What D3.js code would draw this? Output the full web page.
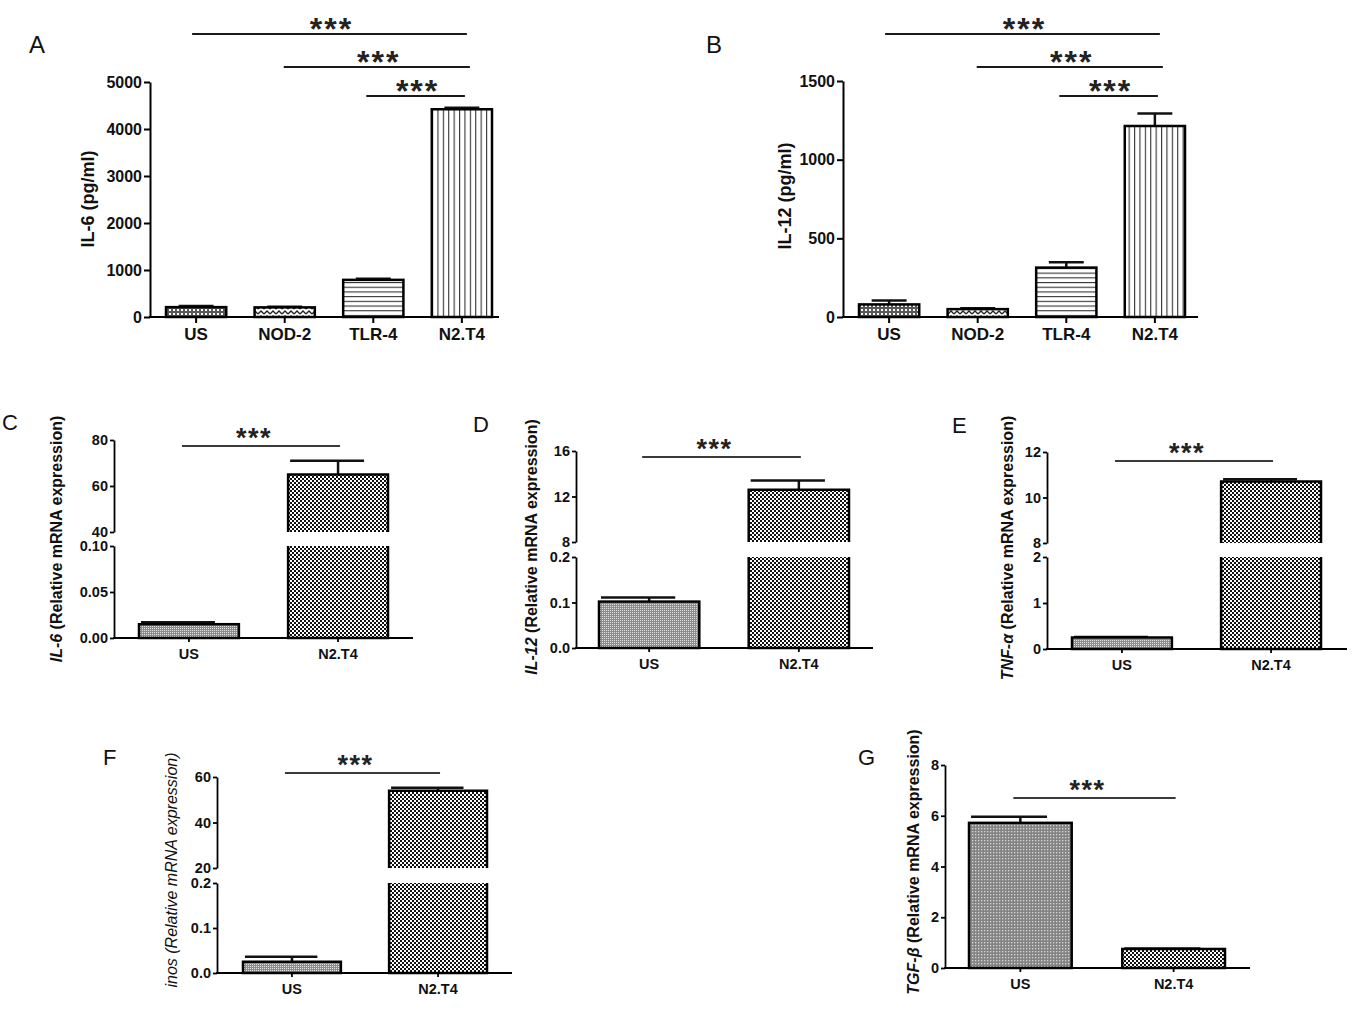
<!DOCTYPE html>
<html><head><meta charset="utf-8">
<script src="https://cdn.jsdelivr.net/npm/d3@7"></script>
<style>body{margin:0;background:#fff}svg text{font-family:"Liberation Sans",Arial,sans-serif}</style>
</head><body><svg id="fig" width="1355" height="1020"></svg>
<script>
// ---------------- DATA ----------------
const cytokineGroups = ["US", "NOD-2", "TLR-4", "N2.T4"];
const mrnaGroups = ["US", "N2.T4"];

const il6Protein = [210, 205, 790, 4420];
const il6ProteinErr = [25, 15, 25, 30];
const il6ProteinTicks = [0, 1000, 2000, 3000, 4000, 5000];

const il12Protein = [80, 50, 314, 1214];
const il12ProteinErr = [25, 5, 34, 80];
const il12ProteinTicks = [0, 500, 1000, 1500];

const proteinComparisons = [["US", "N2.T4", "***"], ["NOD-2", "N2.T4", "***"], ["TLR-4", "N2.T4", "***"]];
const mrnaComparisons = [["US", "N2.T4", "***"]];

const il6Mrna = [0.015, 65];
const il6MrnaErr = [0.002, 6];
const il6MrnaLowTicks = [0, 0.05, 0.10];
const il6MrnaHighTicks = [40, 60, 80];

const il12Mrna = [0.102, 12.6];
const il12MrnaErr = [0.009, 0.8];
const il12MrnaLowTicks = [0, 0.1, 0.2];
const il12MrnaHighTicks = [8, 12, 16];

const tnfMrna = [0.25, 10.7];
const tnfMrnaErr = [0.01, 0.1];
const tnfMrnaLowTicks = [0, 1, 2];
const tnfMrnaHighTicks = [8, 10, 12];

const inosMrna = [0.025, 54];
const inosMrnaErr = [0.011, 1.3];
const inosMrnaLowTicks = [0, 0.1, 0.2];
const inosMrnaHighTicks = [20, 40, 60];

const tgfMrna = [5.72, 0.75];
const tgfMrnaErr = [0.24, 0.02];
const tgfMrnaTicks = [0, 2, 4, 6, 8];

// ---------------- PATTERNS ----------------
const svg = d3.select("#fig");
const defs = svg.append("defs");
function pat(id, w, h, bg, draw) {
  const p = defs.append("pattern").attr("id", id).attr("patternUnits", "userSpaceOnUse")
    .attr("width", w).attr("height", h);
  p.append("rect").attr("width", w).attr("height", h).attr("fill", bg);
  draw(p);
}
pat("pUS4", 4, 4, "#5a5a5a", p => p.append("rect").attr("x", 1).attr("y", 1).attr("width", 2).attr("height", 2).attr("fill", "#fff"));
pat("pZig", 6, 5, "#fff", p => p.append("path").attr("d", "M0,4 L3,1 L6,4").attr("fill", "none").attr("stroke", "#222").attr("stroke-width", 1.4));
pat("pHor", 8, 4.7, "#fff", p => p.append("rect").attr("width", 8).attr("height", 1.1).attr("fill", "#333"));
pat("pVer", 5.4, 8, "#fff", p => p.append("rect").attr("width", 1.1).attr("height", 8).attr("fill", "#333"));
pat("pChk", 4, 4, "#fff", p => {
  p.append("rect").attr("width", 2).attr("height", 2).attr("fill", "#111");
  p.append("rect").attr("x", 2).attr("y", 2).attr("width", 2).attr("height", 2).attr("fill", "#111");
});
pat("pGray", 2, 2, "#8c8c8c", p => p.append("rect").attr("width", 1).attr("height", 1).attr("fill", "#e2e2e2"));
pat("pGrayG", 3, 3, "#848484", p => p.append("rect").attr("width", 1.3).attr("height", 1.3).attr("fill", "#d6d6d6"));

// ---------------- PANEL ----------------
function panel(c) {
  const g = svg.append("g");
  const x = d3.scaleBand().domain(c.groups).range(c.band).paddingInner(c.pad);
  const bw = x.bandwidth();
  const cx = k => x(k) + bw / 2;
  let yLow, yHigh;
  if (c.brk) {
    yLow = d3.scaleLinear().domain([0, c.brk.lowMax]).range([c.y0, c.brk.lowTopPx]);
    yHigh = d3.scaleLinear().domain([c.brk.highMin, c.yMax]).range([c.brk.highBotPx, c.yTopPx]);
  } else {
    yLow = d3.scaleLinear().domain([0, c.yMax]).range([c.y0, c.yTopPx]);
  }
  const isHigh = v => c.brk && v > c.brk.lowMax;

  // error bars
  c.values.forEach((v, i) => {
    const sc = isHigh(v) ? yHigh : yLow;
    const xc = cx(c.groups[i]);
    const ye = sc(v + c.errs[i]);
    g.append("line").attr("x1", xc).attr("x2", xc).attr("y1", sc(v)).attr("y2", ye)
      .attr("stroke", "#111").attr("stroke-width", c.barSW);
    g.append("line").attr("x1", xc - bw * c.capL).attr("x2", xc + bw * c.capR).attr("y1", ye).attr("y2", ye)
      .attr("stroke", "#111").attr("stroke-width", c.barSW);
  });

  // bars
  c.values.forEach((v, i) => {
    const bx = x(c.groups[i]);
    const fill = `url(#${c.fills[i]})`;
    if (isHigh(v)) {
      const yb = yLow(c.brk.lowMax);
      g.append("rect").attr("x", bx).attr("y", yb).attr("width", bw).attr("height", c.y0 - yb).attr("fill", fill);
      g.append("path").attr("d", `M${bx},${yb}V${c.y0}H${bx + bw}V${yb}`).attr("fill", "none")
        .attr("stroke", "#000").attr("stroke-width", c.barSW);
      const yt = yHigh(v), yhb = yHigh(c.brk.highMin);
      g.append("rect").attr("x", bx).attr("y", yt).attr("width", bw).attr("height", yhb - yt).attr("fill", fill);
      g.append("path").attr("d", `M${bx},${yhb}V${yt}H${bx + bw}V${yhb}`).attr("fill", "none")
        .attr("stroke", "#000").attr("stroke-width", c.barSW);
    } else {
      const yt = yLow(v);
      g.append("rect").attr("x", bx).attr("y", yt).attr("width", bw).attr("height", c.y0 - yt)
        .attr("fill", fill).attr("stroke", "#000").attr("stroke-width", c.barSW);
    }
  });

  // y axes
  function yAxis(scale, ticks, fmt) {
    const a = g.append("g").attr("transform", `translate(${c.x0},0)`)
      .call(d3.axisLeft(scale).tickValues(ticks).tickFormat(d3.format(fmt))
        .tickSize(c.tickLen).tickSizeOuter(0).tickPadding(c.tickPad));
    a.attr("font-family", null).attr("font-size", null);
    a.select(".domain").attr("stroke", "#000").attr("stroke-width", c.axisSW);
    a.selectAll(".tick line").attr("stroke", "#000").attr("stroke-width", c.axisSW);
    a.selectAll(".tick text").attr("font-size", c.tickFont).attr("font-weight", "bold").attr("fill", "#111");
  }
  if (c.brk) {
    yAxis(yLow, c.lowTicks, c.lowFmt);
    yAxis(yHigh, c.highTicks, c.highFmt);
  } else {
    yAxis(yLow, c.ticks, c.fmt);
  }

  // x axis
  g.append("line").attr("x1", c.x0 - c.axisSW / 2).attr("x2", c.xEnd).attr("y1", c.y0).attr("y2", c.y0)
    .attr("stroke", "#000").attr("stroke-width", c.axisSW);
  c.groups.forEach(k => {
    g.append("line").attr("x1", cx(k)).attr("x2", cx(k)).attr("y1", c.y0).attr("y2", c.y0 + c.tickLen)
      .attr("stroke", "#000").attr("stroke-width", c.axisSW);
    g.append("text").attr("x", cx(k)).attr("y", c.y0 + c.xLabDy).attr("text-anchor", "middle")
      .attr("font-size", c.xFont).attr("font-weight", "bold").attr("fill", "#111").text(k);
  });

  // y label
  const yl = g.append("text").attr("transform", `translate(${c.labelX},${c.labelY}) rotate(-90)`)
    .attr("text-anchor", "middle").attr("font-size", c.labelFont).attr("font-weight", c.labelWeight)
    .attr("fill", "#111");
  c.label.forEach(p => yl.append("tspan").attr("font-style", p.i ? "italic" : null).text(p.t));

  // significance
  c.comparisons.forEach((cmp, j) => {
    const x1 = cx(cmp[0]) + c.sigOff[j][0];
    const x2 = cx(cmp[1]) + c.sigOff[j][1];
    const y = c.sigY[j];
    g.append("line").attr("x1", x1).attr("x2", x2).attr("y1", y).attr("y2", y)
      .attr("stroke", c.sigColor).attr("stroke-width", 2);
    g.append("text").attr("x", (x1 + x2) / 2 + c.starDx).attr("y", y + c.starDy)
      .attr("text-anchor", "middle").attr("font-size", c.starFont).attr("font-weight", "bold")
      .attr("letter-spacing", c.starLS).attr("fill", "#222").text(cmp[2]);
  });

  // panel letter
  svg.append("text").attr("x", c.letterX).attr("y", c.letterY).attr("font-size", c.letterFont)
    .attr("fill", "#111").text(c.letter);
}

const protStyle = {
  pad: 0.32, capL: 0.29, capR: 0.29, tickLen: 6, tickPad: 2, tickFont: 16, xFont: 17, xLabDy: 23,
  labelFont: 18, labelWeight: "bold", axisSW: 2, barSW: 2.5, starFont: 32, starLS: 2, starDy: 6, starDx: 2,
  sigColor: "#1a1a1a", letterFont: 24,
  sigOff: [[-4, 5], [-1, 8], [-7, 3]]
};
const mrnaStyle = {
  pad: 0.33, capL: 0.48, capR: 0.26, tickLen: 4, tickPad: 2, tickFont: 14.5, xFont: 14.5, xLabDy: 21,
  labelFont: 16, labelWeight: "bold", axisSW: 1.8, barSW: 2.5, starFont: 27, starLS: 1.5, starDy: 1, starDx: -7,
  sigColor: "#3a3a3a", letterFont: 22, sigOff: [[-7, 2]]
};

panel(Object.assign({}, protStyle, {
  letter: "A", letterX: 29, letterY: 53,
  groups: cytokineGroups, values: il6Protein, errs: il6ProteinErr, fills: ["pUS4", "pZig", "pHor", "pVer"],
  x0: 150, xEnd: 499, y0: 317, yTopPx: 82, yMax: 5000, ticks: il6ProteinTicks, fmt: "d", band: [166, 492],
  label: [{ t: "IL-6 (pg/ml)" }], labelX: 94, labelY: 199,
  comparisons: proteinComparisons, sigY: [34, 67, 96]
}));
panel(Object.assign({}, protStyle, {
  letter: "B", letterX: 706, letterY: 53,
  groups: cytokineGroups, values: il12Protein, errs: il12ProteinErr, fills: ["pUS4", "pZig", "pHor", "pVer"],
  x0: 843, xEnd: 1198, y0: 317, yTopPx: 81, yMax: 1500, ticks: il12ProteinTicks, fmt: "d", band: [859, 1185],
  label: [{ t: "IL-12 (pg/ml)" }], labelX: 791, labelY: 196,
  comparisons: proteinComparisons, sigY: [34, 67, 96]
}));
panel(Object.assign({}, mrnaStyle, {
  letter: "C", letterX: 2, letterY: 430,
  groups: mrnaGroups, values: il6Mrna, errs: il6MrnaErr, fills: ["pGray", "pChk"],
  x0: 114, xEnd: 413, y0: 638, yTopPx: 440, yMax: 80,
  brk: { lowMax: 0.10, lowTopPx: 546, highMin: 40, highBotPx: 532 },
  lowTicks: il6MrnaLowTicks, lowFmt: ".2f", highTicks: il6MrnaHighTicks, highFmt: "d", band: [139, 388],
  label: [{ t: "IL-6", i: true }, { t: " (Relative mRNA expression)" }], labelX: 62, labelY: 539,
  comparisons: mrnaComparisons, sigY: [446]
}));
panel(Object.assign({}, mrnaStyle, {
  letter: "D", letterX: 473, letterY: 432,
  groups: mrnaGroups, values: il12Mrna, errs: il12MrnaErr, fills: ["pGray", "pChk"],
  x0: 576, xEnd: 873, y0: 648, yTopPx: 451, yMax: 16,
  brk: { lowMax: 0.2, lowTopPx: 557, highMin: 8, highBotPx: 542 },
  lowTicks: il12MrnaLowTicks, lowFmt: ".1f", highTicks: il12MrnaHighTicks, highFmt: "d", band: [599, 849],
  label: [{ t: "IL-12", i: true }, { t: " (Relative mRNA expression)" }], labelX: 537, labelY: 547,
  comparisons: mrnaComparisons, sigY: [457]
}));
panel(Object.assign({}, mrnaStyle, {
  letter: "E", letterX: 952, letterY: 433,
  groups: mrnaGroups, values: tnfMrna, errs: tnfMrnaErr, fills: ["pGray", "pChk"],
  x0: 1047, xEnd: 1347, y0: 649, yTopPx: 452, yMax: 12,
  brk: { lowMax: 2, lowTopPx: 557, highMin: 8, highBotPx: 543 },
  lowTicks: tnfMrnaLowTicks, lowFmt: "d", highTicks: tnfMrnaHighTicks, highFmt: "d", band: [1072, 1321],
  label: [{ t: "TNF-α", i: true }, { t: " (Relative mRNA expression)" }], labelX: 1013, labelY: 548,
  comparisons: mrnaComparisons, sigY: [461]
}));
panel(Object.assign({}, mrnaStyle, {
  letter: "F", letterX: 103, letterY: 765,
  groups: mrnaGroups, values: inosMrna, errs: inosMrnaErr, fills: ["pGray", "pChk"],
  x0: 217, xEnd: 512, y0: 973, yTopPx: 777, yMax: 60,
  brk: { lowMax: 0.2, lowTopPx: 883, highMin: 20, highBotPx: 868 },
  lowTicks: inosMrnaLowTicks, lowFmt: ".1f", highTicks: inosMrnaHighTicks, highFmt: "d", band: [243, 487],
  label: [{ t: "inos (Relative mRNA expression)", i: true }], labelWeight: "normal", labelX: 177, labelY: 870,
  comparisons: mrnaComparisons, sigY: [773]
}));
panel(Object.assign({}, mrnaStyle, {
  letter: "G", letterX: 858, letterY: 765,
  groups: mrnaGroups, values: tgfMrna, errs: tgfMrnaErr, fills: ["pGrayG", "pChk"],
  x0: 945, xEnd: 1250, y0: 968, yTopPx: 765, yMax: 8, ticks: tgfMrnaTicks, fmt: "d", band: [969, 1225],
  label: [{ t: "TGF-β", i: true }, { t: " (Relative mRNA expression)" }], labelX: 919, labelY: 862,
  comparisons: mrnaComparisons, sigY: [798]
}));
</script></body></html>
